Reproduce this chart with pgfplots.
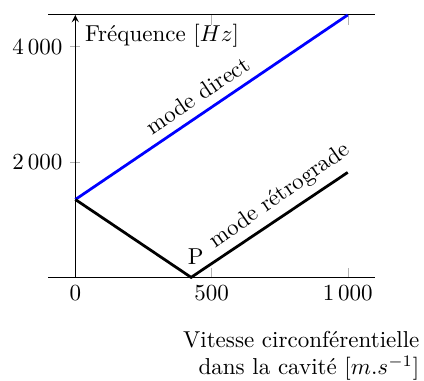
\documentclass[border=0pt]{standalone}
\usepackage{pgfplots}
\pgfplotsset{compat=1.18}
\begin{document}
\begin{tikzpicture}
\begin{axis}[
    scale only axis,
    width=142pt, height=114pt,
    axis x line=box,
    axis y line=middle,
    y axis line style={-stealth},
    xmin=-100, xmax=1100,
    ymin=0, ymax=4550,
    xtick={0,500,1000},
    ytick={2000,4000},
    tick style={gray!60},
    /pgf/number format/1000 sep={\,},
    clip=false,
    xlabel={Vitesse circonférentielle\\dans la cavité [$m.s^{-1}$]},
    xlabel style={at={(rel axis cs:1,0)}, anchor=north east, xshift=19.5pt, yshift=-23pt, align=right, inner sep=0pt},
    ylabel={Fréquence [$Hz$]},
    ylabel style={at={(axis cs:0,4550)}, anchor=north west, rotate=0, inner sep=3pt, xshift=1pt, yshift=-1pt},
]
  % mode direct
  \addplot[blue, very thick] coordinates {(0,1350) (1000,4550)};
  % mode retrograde
  \addplot[black, very thick] coordinates {(0,1350) (425,0) (1000,1820)};

  \node[rotate=34, anchor=south, inner ysep=4pt] at (axis cs:485,2900) {mode direct};
  \node[rotate=35, anchor=south, inner ysep=3.2pt] at (axis cs:790,1155) {mode rétrograde};
  \node[anchor=south, xshift=2pt, yshift=2pt] at (axis cs:425,0) {P};
\end{axis}
\path ([xshift=-20.9pt,yshift=-42.6pt]current axis.south west) rectangle ([xshift=21.3pt,yshift=6.5pt]current axis.north east);
\end{tikzpicture}
\end{document}
